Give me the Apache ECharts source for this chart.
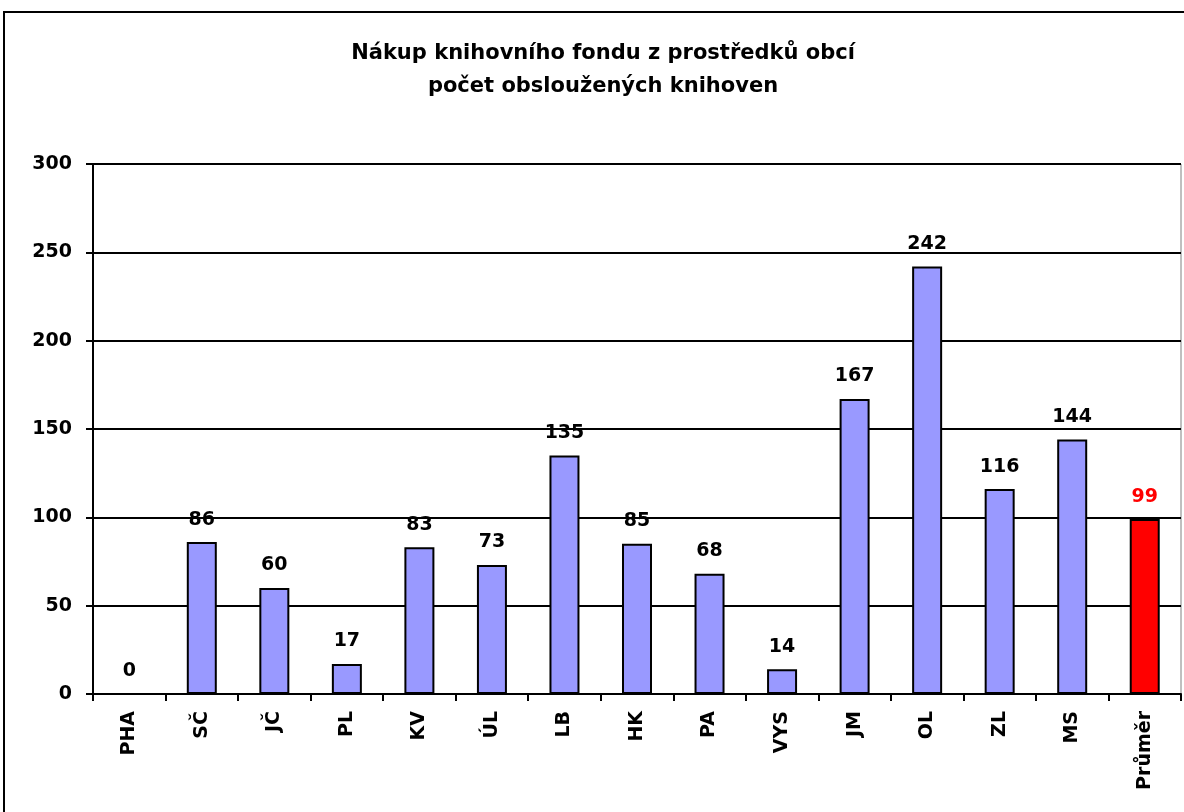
<!DOCTYPE html>
<html><head><meta charset="utf-8">
<script src="https://cdn.jsdelivr.net/npm/echarts@6/dist/echarts.min.js"></script>
<style>html,body{margin:0;padding:0;background:#fff;overflow:hidden}#c{width:1184px;height:812px}</style>
</head><body><div id="c"></div>
<script>
const categories = ['PHA','SČ','JČ','PL','KV','ÚL','LB','HK','PA','VYS','JM','OL','ZL','MS','Průměr'];
const values = [0,86,60,17,83,73,135,85,68,14,167,242,116,144,99];
const titleLines = ['Nákup knihovního fondu z prostředků obcí','počet obsloužených knihoven'];
const yTicks = [0,50,100,150,200,250,300];

const font = '"DejaVu Sans", Arial, sans-serif';
const chart = echarts.init(document.getElementById('c'), null, {renderer:'canvas'});
const data = values.map((v,i)=>{
  const avg = i===values.length-1;
  return {
    value:v,
    itemStyle:{color: avg ? '#ff0000' : '#9999ff', borderWidth: v===0 ? 0 : 2},
    label:{color: avg ? '#ff0000' : '#000'}
  };
});
chart.setOption({
  animation:false,
  backgroundColor:'#fff',
  title:{text:titleLines.join('\n'),left:598,top:32,textAlign:'center',
    textStyle:{fontFamily:font,fontWeight:'bold',fontSize:21,lineHeight:33,color:'#000'}},
  graphic:[{type:'rect',shape:{x:4,y:12,width:1220,height:840},style:{fill:'none',stroke:'#000',lineWidth:2},z:-1}],
  grid:{left:93,right:3,top:164,bottom:118,show:true,borderColor:'#808080',borderWidth:1,backgroundColor:'transparent'},
  xAxis:{type:'category',data:categories,
    axisLine:{lineStyle:{color:'#000',width:2}},
    axisTick:{show:true,alignWithLabel:false,length:7,lineStyle:{color:'#000',width:2}},
    axisLabel:{rotate:90,fontFamily:font,fontWeight:'bold',fontSize:19,color:'#000',margin:17,interval:0}},
  yAxis:{type:'value',min:yTicks[0],max:yTicks[yTicks.length-1],interval:50,
    axisLine:{show:true,lineStyle:{color:'#000',width:2}},
    axisTick:{show:true,length:7,lineStyle:{color:'#000',width:2}},
    axisLabel:{fontFamily:font,fontWeight:'bold',fontSize:19,color:'#000',margin:21},
    splitLine:{lineStyle:{color:'#000',width:2}}},
  series:[{type:'bar',data:data,barWidth:30,
    itemStyle:{borderColor:'#000'},
    label:{show:true,position:'top',distance:13,fontFamily:font,fontWeight:'bold',fontSize:19}}]
});
</script></body></html>
